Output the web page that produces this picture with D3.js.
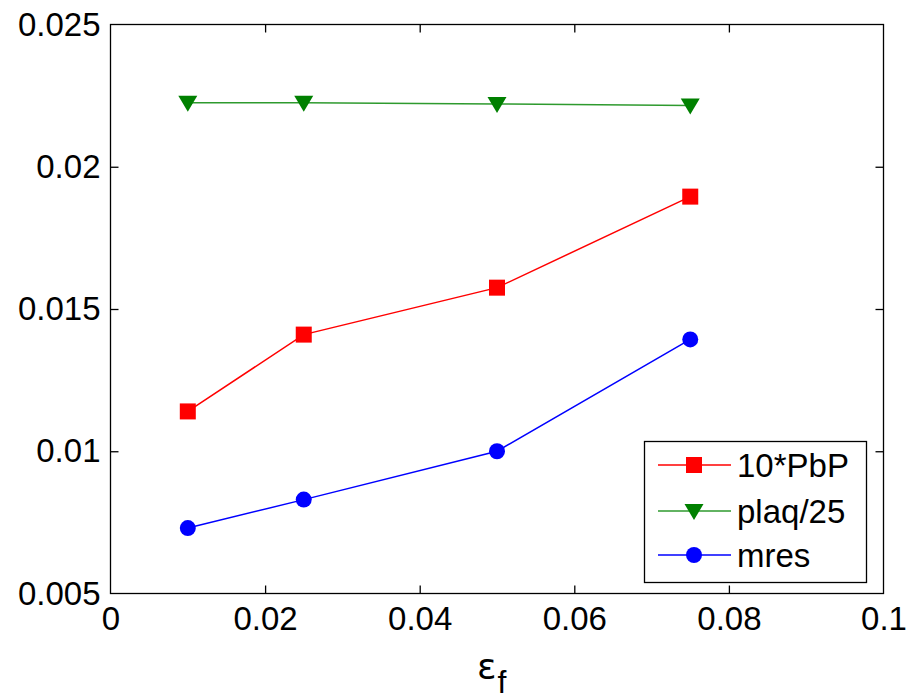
<!DOCTYPE html>
<html>
<head>
<meta charset="utf-8">
<script src="https://cdn.jsdelivr.net/npm/d3@7"></script>
<style>
  html, body { margin: 0; padding: 0; background: #fff; }
  svg { display: block; font-family: "Liberation Sans", Arial, Helvetica, sans-serif; }
</style>
</head>
<body>
<svg id="chart" width="907" height="699"></svg>
<script>
// Fermion parameter values on the x axis
const epsF = [0.01, 0.025, 0.05, 0.075];

// Measured series
const pbp10 = [0.0114, 0.0141, 0.01575, 0.01895];
const plaq25 = [0.02225, 0.02225, 0.02221, 0.02215];
const mres = [0.0073, 0.0083, 0.0100, 0.01393];

const xTicks = [0, 0.02, 0.04, 0.06, 0.08, 0.1];
const yTicks = [0.005, 0.01, 0.015, 0.02, 0.025];
const seriesNames = ["10*PbP", "plaq/25", "mres"];

const svg = d3.select("#chart");
const plotLeft = 110.5, plotRight = 883.5, plotTop = 24.5, plotBottom = 593.5;

const x = d3.scaleLinear().domain([0, 0.1]).range([plotLeft, plotRight]);
const y = d3.scaleLinear().domain([0.005, 0.025]).range([plotBottom, plotTop]);

const fontSize = 33;
const tickLen = 8;

// Axes box
svg.append("rect")
  .attr("x", plotLeft).attr("y", plotTop)
  .attr("width", plotRight - plotLeft).attr("height", plotBottom - plotTop)
  .attr("fill", "none").attr("stroke", "#000").attr("stroke-width", 1.3);

// Bottom axis with ticks pointing inward, mirrored on top
const xAxis = d3.axisBottom(x).tickValues(xTicks).tickSizeInner(-tickLen).tickSizeOuter(0)
  .tickPadding(13).tickFormat(d => d === 0 ? "0" : String(+d.toFixed(2)));
const gx = svg.append("g").attr("transform", `translate(0,${plotBottom})`).call(xAxis);
gx.select(".domain").remove();
gx.selectAll(".tick line").attr("stroke", "#000").attr("stroke-width", 1.3)
  .filter(d => d === 0 || d === 0.1).remove();
gx.selectAll(".tick text").attr("font-size", fontSize).attr("fill", "#000")
  .attr("font-family", "Liberation Sans, Arial, sans-serif");

const xAxisTop = d3.axisTop(x).tickValues(xTicks.filter(d => d > 0 && d < 0.1))
  .tickSizeInner(-tickLen).tickSizeOuter(0).tickFormat("");
const gxt = svg.append("g").attr("transform", `translate(0,${plotTop})`).call(xAxisTop);
gxt.select(".domain").remove();
gxt.selectAll(".tick line").attr("stroke", "#000").attr("stroke-width", 1.3);

// Left axis with inward ticks, mirrored on the right
const yAxis = d3.axisLeft(y).tickValues(yTicks).tickSizeInner(-tickLen).tickSizeOuter(0)
  .tickPadding(10).tickFormat(d => String(+d.toFixed(3)));
const gy = svg.append("g").attr("transform", `translate(${plotLeft},0)`).call(yAxis);
gy.select(".domain").remove();
gy.selectAll(".tick line").attr("stroke", "#000").attr("stroke-width", 1.3)
  .filter(d => d === 0.005 || d === 0.025).remove();
gy.selectAll(".tick text").attr("font-size", fontSize).attr("fill", "#000")
  .attr("font-family", "Liberation Sans, Arial, sans-serif");

const yAxisRight = d3.axisRight(y).tickValues(yTicks.filter(d => d > 0.005 && d < 0.025))
  .tickSizeInner(-tickLen).tickSizeOuter(0).tickFormat("");
const gyr = svg.append("g").attr("transform", `translate(${plotRight},0)`).call(yAxisRight);
gyr.select(".domain").remove();
gyr.selectAll(".tick line").attr("stroke", "#000").attr("stroke-width", 1.3);

// X axis label: epsilon with subscript f
const xl = svg.append("text")
  .attr("x", 477).attr("y", 679)
  .attr("text-anchor", "start").attr("font-size", 36).attr("fill", "#000")
  .attr("font-family", "DejaVu Sans, sans-serif");
xl.append("tspan").text("ε");
xl.append("tspan").attr("font-size", 32).attr("dy", 14).attr("dx", 1)
  .attr("font-family", "Liberation Sans, Arial, sans-serif").text("f");

// Marker drawers
const markers = {
  square: (g, cx, cy, c) => g.append("rect").attr("x", cx - 8).attr("y", cy - 8)
    .attr("width", 16).attr("height", 16).attr("fill", c),
  triangle: (g, cx, cy, c) => g.append("path")
    .attr("d", `M${cx - 9.5},${cy - 7} L${cx + 9.5},${cy - 7} L${cx},${cy + 9} Z`).attr("fill", c),
  circle: (g, cx, cy, c) => g.append("circle").attr("cx", cx).attr("cy", cy).attr("r", 8).attr("fill", c)
};

const series = [
  { name: seriesNames[0], values: pbp10, color: "#ff0000", line: "#ff0000", marker: "square" },
  { name: seriesNames[1], values: plaq25, color: "#008000", line: "#2e9a2e", marker: "triangle" },
  { name: seriesNames[2], values: mres, color: "#0000ff", line: "#0000ff", marker: "circle" }
];

const line = d3.line().x(d => x(d[0])).y(d => y(d[1]));

series.forEach(s => {
  const pts = epsF.map((e, i) => [e, s.values[i]]);
  svg.append("path").datum(pts).attr("d", line)
    .attr("fill", "none").attr("stroke", s.line).attr("stroke-width", 1.5);
  const g = svg.append("g");
  pts.forEach(p => markers[s.marker](g, x(p[0]), y(p[1]), s.color));
});

// Legend
const lg = svg.append("g");
lg.append("rect").attr("x", 644.5).attr("y", 441.5).attr("width", 222).attr("height", 141)
  .attr("fill", "#fff").attr("stroke", "#000").attr("stroke-width", 1.3);
const rowY = [465, 511, 555];
series.forEach((s, i) => {
  lg.append("line").attr("x1", 658).attr("x2", 731).attr("y1", rowY[i]).attr("y2", rowY[i])
    .attr("stroke", s.line).attr("stroke-width", 1.5);
  markers[s.marker](lg, 694, rowY[i], s.color);
  lg.append("text").attr("x", 737).attr("y", rowY[i]).attr("dy", "0.36em")
    .attr("font-size", fontSize).attr("fill", "#000").text(s.name);
});
</script>
</body>
</html>
